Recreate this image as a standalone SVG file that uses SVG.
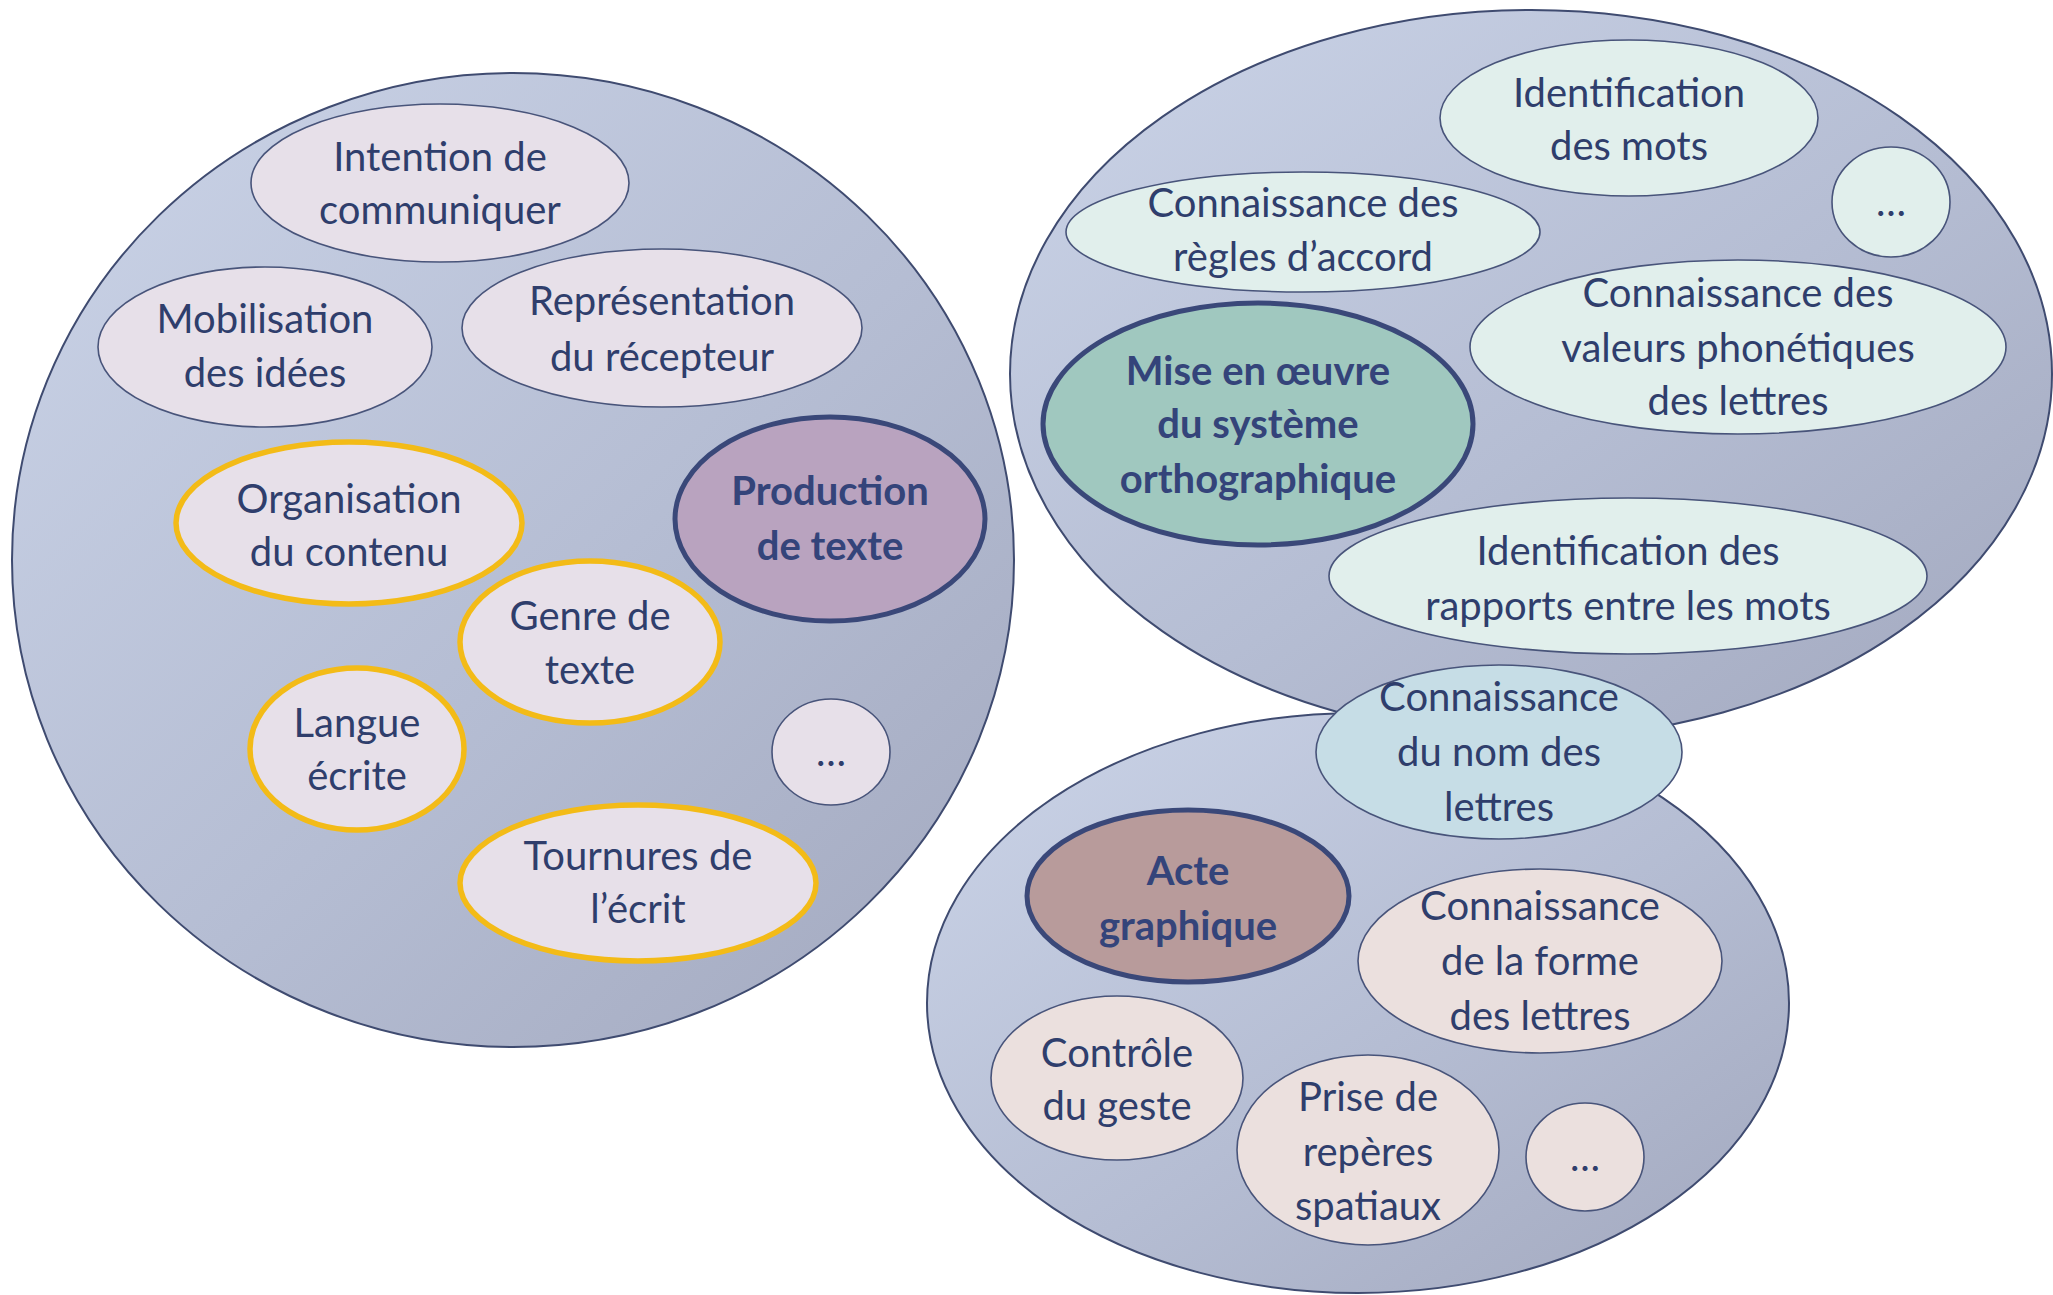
<svg xmlns="http://www.w3.org/2000/svg" width="2053" height="1295" viewBox="0 0 2053 1295">
<defs>
<linearGradient id="bg" x1="0" y1="0" x2="1" y2="1">
<stop offset="0" stop-color="#CBD4E8"/>
<stop offset="0.55" stop-color="#B5BDD3"/>
<stop offset="1" stop-color="#A2A8BE"/>
</linearGradient>
</defs>
<style>
.big{fill:url(#bg);stroke:#3F4B70;stroke-width:2}
.n{stroke:#48547A;stroke-width:1.6}
.pink{fill:#E7E0E9}
.mint{fill:#E1EFEC}
.blue{fill:#C6DDE6}
.rose{fill:#EBE0DE}
.yel{stroke:#F3BB17;stroke-width:5.5}
.key{stroke:#3A4879;stroke-width:5}
text{font-family:Lato,"Liberation Sans",sans-serif;font-size:40px;fill:#2F3E6C;text-anchor:middle}
.b{font-weight:bold;fill:#34447A}
</style>
<g id="clusters">
<ellipse class="big" cx="513" cy="560" rx="501" ry="487"/>
<ellipse class="big" cx="1531" cy="374" rx="521" ry="364"/>
<ellipse class="big" cx="1358" cy="1003" rx="431" ry="290"/>
</g>
<g id="connectors"/>
<g id="intention"><ellipse class="n pink" cx="440" cy="183" rx="189" ry="79"/><text x="440" y="171">Intention de</text><text x="440" y="224">communiquer</text></g>
<g id="mobilisation"><ellipse class="n pink" cx="265" cy="347" rx="167" ry="80"/><text x="265" y="333">Mobilisation</text><text x="265" y="387">des idées</text></g>
<g id="representation"><ellipse class="n pink" cx="662" cy="328" rx="200" ry="79"/><text x="662" y="315">Représentation</text><text x="662" y="371">du récepteur</text></g>
<g id="organisation"><ellipse class="pink yel" cx="349" cy="523" rx="173" ry="81"/><text x="349" y="513">Organisation</text><text x="349" y="566">du contenu</text></g>
<g id="production"><ellipse class="key" fill="#B9A3BF" cx="830" cy="519" rx="155" ry="102"/><text class="b" x="830" y="505">Production</text><text class="b" x="830" y="560">de texte</text></g>
<g id="genre"><ellipse class="pink yel" cx="590" cy="642" rx="130" ry="81"/><text x="590" y="630">Genre de</text><text x="590" y="684">texte</text></g>
<g id="langue"><ellipse class="pink yel" cx="357" cy="749" rx="107" ry="81"/><text x="357" y="737">Langue</text><text x="357" y="790">écrite</text></g>
<g id="etc1"><ellipse class="n pink" cx="831" cy="752" rx="59" ry="53"/><text x="831" y="766">…</text></g>
<g id="tournures"><ellipse class="pink yel" cx="638" cy="883" rx="178" ry="78"/><text x="638" y="870">Tournures de</text><text x="638" y="923">l’écrit</text></g>
<g id="idmots"><ellipse class="n mint" cx="1629" cy="118" rx="189" ry="78"/><text x="1629" y="107">Identification</text><text x="1629" y="160">des mots</text></g>
<g id="etc2"><ellipse class="n mint" cx="1891" cy="202" rx="59" ry="55"/><text x="1891" y="216">…</text></g>
<g id="regles"><ellipse class="n mint" cx="1303" cy="232" rx="237" ry="60"/><text x="1303" y="217">Connaissance des</text><text x="1303" y="271">règles d’accord</text></g>
<g id="valeurs"><ellipse class="n mint" cx="1738" cy="347" rx="268" ry="87"/><text x="1738" y="307">Connaissance des</text><text x="1738" y="362">valeurs phonétiques</text><text x="1738" y="415">des lettres</text></g>
<g id="miseenoeuvre"><ellipse class="key" fill="#A0C8BF" cx="1258" cy="424" rx="215" ry="121"/><text class="b" x="1258" y="385">Mise en œuvre</text><text class="b" x="1258" y="438">du système</text><text class="b" x="1258" y="493">orthographique</text></g>
<g id="rapports"><ellipse class="n mint" cx="1628" cy="576" rx="299" ry="78"/><text x="1628" y="565">Identification des</text><text x="1628" y="620">rapports entre les mots</text></g>
<g id="nomlettres"><ellipse class="n blue" cx="1499" cy="752" rx="183" ry="87"/><text x="1499" y="711">Connaissance</text><text x="1499" y="766">du nom des</text><text x="1499" y="821">lettres</text></g>
<g id="acte"><ellipse class="key" fill="#B89B9B" cx="1188" cy="896" rx="161" ry="86"/><text class="b" x="1188" y="885">Acte</text><text class="b" x="1188" y="940">graphique</text></g>
<g id="forme"><ellipse class="n rose" cx="1540" cy="961" rx="182" ry="92"/><text x="1540" y="920">Connaissance</text><text x="1540" y="975">de la forme</text><text x="1540" y="1030">des lettres</text></g>
<g id="controle"><ellipse class="n rose" cx="1117" cy="1078" rx="126" ry="82"/><text x="1117" y="1067">Contrôle</text><text x="1117" y="1120">du geste</text></g>
<g id="prise"><ellipse class="n rose" cx="1368" cy="1150" rx="131" ry="95"/><text x="1368" y="1111">Prise de</text><text x="1368" y="1166">repères</text><text x="1368" y="1220">spatiaux</text></g>
<g id="etc3"><ellipse class="n rose" cx="1585" cy="1157" rx="59" ry="54"/><text x="1585" y="1171">…</text></g>
</svg>
